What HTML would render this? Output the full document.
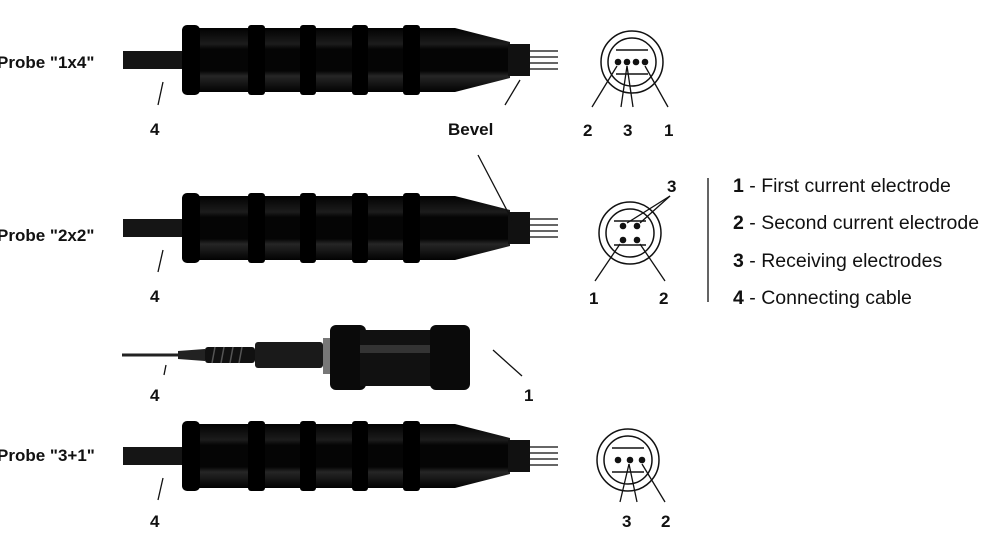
<!DOCTYPE html>
<html><head><meta charset="utf-8"><style>
body{margin:0;background:#fff}
svg text{font-family:"Liberation Sans",sans-serif;fill:#111}
.b{font-weight:bold;font-size:17px}
.l{font-size:19.5px}
</style></head><body>
<svg width="1000" height="541" viewBox="0 0 1000 541" xmlns="http://www.w3.org/2000/svg">
<defs>
<linearGradient id="g" x1="0" y1="0" x2="0" y2="1">
<stop offset="0" stop-color="#020202"/><stop offset="0.25" stop-color="#1c1c1c"/><stop offset="0.33" stop-color="#050505"/><stop offset="0.67" stop-color="#050505"/><stop offset="0.75" stop-color="#262626"/><stop offset="1" stop-color="#020202"/>
</linearGradient>
<g id="probe">
<rect x="123" y="-9" width="62" height="18" fill="#151515"/>
<path d="M182 -30 Q182 -32 190 -32 L455 -32 L510 -18 L510 18 L455 32 L190 32 Q182 32 182 30 Z" fill="url(#g)"/>
<rect x="182" y="-35" width="18" height="70" rx="5" fill="#000"/>
<rect x="248" y="-35" width="17" height="70" rx="3" fill="#000"/>
<rect x="300" y="-35" width="16" height="70" rx="3" fill="#000"/>
<rect x="352" y="-35" width="16" height="70" rx="3" fill="#000"/>
<rect x="403" y="-35" width="17" height="70" rx="3" fill="#000"/>
<rect x="508" y="-16" width="22" height="32" fill="#111"/>
<g stroke="#666" stroke-width="2"><line x1="530" y1="-9" x2="558" y2="-9"/><line x1="530" y1="-3" x2="558" y2="-3"/><line x1="530" y1="3" x2="558" y2="3"/><line x1="530" y1="9" x2="558" y2="9"/></g>
</g>
<g id="conn" fill="none" stroke="#111" stroke-width="1.5">
<circle r="31"/><circle r="24"/>
<line x1="-16" y1="-12" x2="16" y2="-12"/><line x1="-16" y1="12" x2="16" y2="12"/>
</g>
</defs>

<use href="#probe" y="60"/>
<use href="#probe" y="228"/>
<use href="#probe" y="456"/>

<line x1="122" y1="355" x2="180" y2="355" stroke="#222" stroke-width="3"/>
<path d="M178 351 L205 349 L205 361 L178 359Z" fill="#222"/>
<rect x="205" y="347" width="50" height="16" rx="3" fill="#111"/>
<g stroke="#555" stroke-width="1.5"><line x1="215" y1="347" x2="212" y2="363"/><line x1="224" y1="347" x2="221" y2="363"/><line x1="233" y1="347" x2="230" y2="363"/><line x1="242" y1="347" x2="239" y2="363"/></g>
<rect x="255" y="342" width="68" height="26" rx="3" fill="#1a1a1a"/>
<rect x="323" y="338" width="8" height="36" fill="#777"/>
<rect x="330" y="325" width="36" height="65" rx="6" fill="#0a0a0a"/>
<rect x="360" y="330" width="75" height="56" fill="#111"/>
<rect x="360" y="345" width="75" height="8" fill="#333"/>
<rect x="430" y="325" width="40" height="65" rx="6" fill="#0a0a0a"/>

<text class="b" x="-3" y="68">Probe "1x4"</text>
<text class="b" x="-3" y="241">Probe "2x2"</text>
<text class="b" x="-3" y="461">Probe "3+1"</text>
<g stroke="#111" stroke-width="1.3">
<line x1="163" y1="82" x2="158" y2="105"/>
<line x1="163" y1="250" x2="158" y2="272"/>
<line x1="166" y1="365" x2="164" y2="375"/>
<line x1="163" y1="478" x2="158" y2="500"/>
<line x1="493" y1="350" x2="522" y2="376"/>
<line x1="520" y1="80" x2="505" y2="105"/>
<line x1="478" y1="155" x2="512" y2="220"/>
</g>
<text class="b" x="150" y="135">4</text>
<text class="b" x="150" y="302">4</text>
<text class="b" x="150" y="401">4</text>
<text class="b" x="150" y="527">4</text>
<text class="b" x="524" y="401">1</text>
<text class="b" x="448" y="135">Bevel</text>

<use href="#conn" x="632" y="62"/>
<g fill="#111"><circle cx="618" cy="62" r="3.3"/><circle cx="627" cy="62" r="3.3"/><circle cx="636" cy="62" r="3.3"/><circle cx="645" cy="62" r="3.3"/></g>
<g stroke="#111" stroke-width="1.3"><line x1="617" y1="66" x2="592" y2="107"/><line x1="627" y1="66" x2="621" y2="107"/><line x1="627" y1="66" x2="633" y2="107"/><line x1="645" y1="66" x2="668" y2="107"/></g>
<text class="b" x="583" y="136">2</text><text class="b" x="623" y="136">3</text><text class="b" x="664" y="136">1</text>

<use href="#conn" x="630" y="233"/>
<g fill="#111"><circle cx="623" cy="226" r="3.3"/><circle cx="637" cy="226" r="3.3"/><circle cx="623" cy="240" r="3.3"/><circle cx="637" cy="240" r="3.3"/></g>
<g stroke="#111" stroke-width="1.3"><line x1="627" y1="223" x2="670" y2="196"/><line x1="640" y1="223" x2="670" y2="196"/><line x1="620" y1="244" x2="595" y2="281"/><line x1="640" y1="244" x2="665" y2="281"/></g>
<text class="b" x="667" y="192">3</text>
<text class="b" x="589" y="304">1</text><text class="b" x="659" y="304">2</text>

<use href="#conn" x="628" y="460"/>
<g fill="#111"><circle cx="618" cy="460" r="3.3"/><circle cx="630" cy="460" r="3.3"/><circle cx="642" cy="460" r="3.3"/></g>
<g stroke="#111" stroke-width="1.3"><line x1="629" y1="464" x2="620" y2="502"/><line x1="629" y1="464" x2="637" y2="502"/><line x1="642" y1="464" x2="665" y2="502"/></g>
<text class="b" x="622" y="527">3</text><text class="b" x="661" y="527">2</text>

<line x1="708" y1="178" x2="708" y2="302" stroke="#111" stroke-width="1.3"/>
<text class="l" x="733" y="192"><tspan font-weight="bold">1</tspan> - First current electrode</text>
<text class="l" x="733" y="229"><tspan font-weight="bold">2</tspan> - Second current electrode</text>
<text class="l" x="733" y="267"><tspan font-weight="bold">3</tspan> - Receiving electrodes</text>
<text class="l" x="733" y="304"><tspan font-weight="bold">4</tspan> - Connecting cable</text>
</svg>
</body></html>
